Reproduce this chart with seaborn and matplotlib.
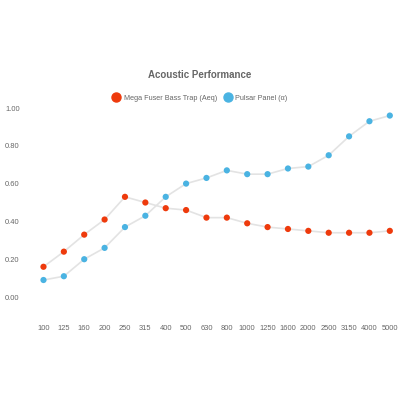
import matplotlib
matplotlib.use("Agg")
import matplotlib.pyplot as plt
from matplotlib.lines import Line2D
import seaborn as sns
from pandas import DataFrame

frequencies = ["100", "125", "160", "200", "250", "315", "400", "500", "630",
               "800", "1000", "1250", "1600", "2000", "2500", "3150", "4000", "5000"]
mega_fuser = [0.16, 0.24, 0.33, 0.41, 0.53, 0.50, 0.47, 0.46, 0.42,
              0.42, 0.39, 0.37, 0.36, 0.35, 0.34, 0.34, 0.34, 0.35]
pulsar_panel = [0.09, 0.11, 0.20, 0.26, 0.37, 0.43, 0.53, 0.60, 0.63,
                0.67, 0.65, 0.65, 0.68, 0.69, 0.75, 0.85, 0.93, 0.96]
y_ticks = [0.0, 0.2, 0.4, 0.6, 0.8, 1.0]

RED = "#EE3A0C"
BLUE = "#4AB3E2"
LINE = "#E3E3E3"
TEXT = "#666666"

sns.set_style("white")
plt.rcParams["font.family"] = ["Liberation Sans", "DejaVu Sans"]

df = DataFrame({
    "pos": list(range(len(frequencies))),
    "mega": mega_fuser,
    "pulsar": pulsar_panel,
})

fig = plt.figure(figsize=(4, 4), dpi=100)
# axes placed so that 0.00 -> y=297px and 1.00 -> y=108px
ax = fig.add_axes([28 / 400, 1 - 319.7 / 400, 372 / 400, (319.7 - 108) / 400])

for col, color in [("mega", RED), ("pulsar", BLUE)]:
    sns.lineplot(data=df, x="pos", y=col, ax=ax, color=LINE, linewidth=1.2, zorder=1)
    sns.scatterplot(data=df, x="pos", y=col, ax=ax, color=color, s=20,
                    edgecolor="none", zorder=2)

ax.set_xlim(-0.76, 17.5)
ax.set_ylim(-0.12, 1.0)
ax.set_xticks(df["pos"])
ax.set_xticklabels(frequencies)
ax.set_yticks(y_ticks)
ax.set_yticklabels([f"{v:.2f}" for v in y_ticks])
ax.tick_params(axis="both", length=0, labelsize=5.4, labelcolor=TEXT)
ax.tick_params(axis="y", pad=6)
ax.tick_params(axis="x", pad=4)
ax.set_xlabel("")
ax.set_ylabel("")
sns.despine(ax=ax, left=True, bottom=True)

fig.text(0.5, 1 - 75 / 400, "Acoustic Performance", ha="center", va="center",
         fontsize=7, fontweight="bold", color=TEXT)

handles = [
    Line2D([], [], marker="o", linestyle="none", markersize=6.5, color=RED),
    Line2D([], [], marker="o", linestyle="none", markersize=6.5, color=BLUE),
]
fig.legend(handles, ["Mega Fuser Bass Trap (Aeq)", "Pulsar Panel (α)"],
           loc="center", bbox_to_anchor=(0.5, 1 - 98 / 400), ncol=2, frameon=False,
           fontsize=5.2, labelcolor=TEXT, handletextpad=0.5, columnspacing=1.0,
           handlelength=1.0)

fig.savefig("out.png", dpi=100)
